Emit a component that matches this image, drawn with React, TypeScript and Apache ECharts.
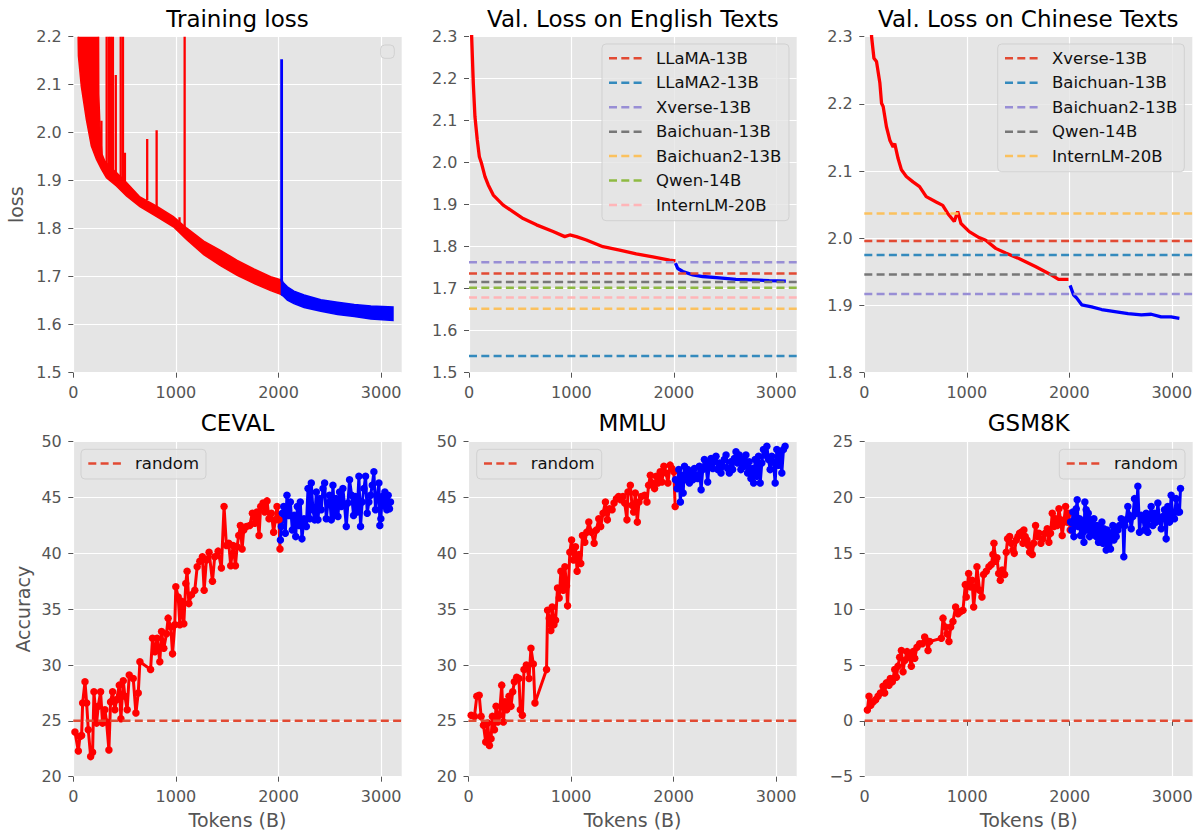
import React, { useEffect, useRef } from 'react';
import * as echarts from 'echarts';

const FONT = 'DejaVu Sans';
const X_MAX = 3200;
const X_TICKS = [0, 1000, 2000, 3000];

const TITLES = ['Training loss', 'Val. Loss on English Texts', 'Val. Loss on Chinese Texts', 'CEVAL', 'MMLU', 'GSM8K'];

// ---------- Training loss (noisy band read as envelopes) ----------
const trainRedUpper = [
  [44, 2.6], [240, 2.6], [248, 2.08], [262, 2.0], [280, 1.955], [307, 1.941], [360, 1.928], [420, 1.917],
  [518, 1.896], [649, 1.866], [812, 1.847], [975, 1.825], [1106, 1.801], [1271, 1.774], [1434, 1.755],
  [1597, 1.734], [1760, 1.716], [1923, 1.7], [2030, 1.693],
];
const trainRedLower = [
  [44, 2.25], [50, 2.16], [78, 2.097], [127, 2.028], [176, 1.972], [225, 1.945], [274, 1.924], [323, 1.906],
  [420, 1.889], [518, 1.868], [649, 1.846], [812, 1.825], [975, 1.804], [1106, 1.777], [1271, 1.746],
  [1434, 1.723], [1597, 1.703], [1760, 1.686], [1923, 1.671], [2037, 1.662],
];
// [x, base, peak]
const trainRedSpikes = [
  [274, 1.93, 2.025], [325, 1.91, 2.3], [347, 1.905, 2.3], [366, 1.9, 2.3], [386, 1.9, 2.3], [414, 1.895, 2.12],
  [462, 1.89, 2.3], [484, 1.89, 2.3], [503, 1.885, 1.958], [720, 1.86, 1.987], [812, 1.846, 2.005],
  [1035, 1.81, 1.824], [1085, 1.8, 2.3],
];
const trainBlueUpper = [
  [2028, 1.696], [2045, 1.688], [2086, 1.679], [2150, 1.67], [2249, 1.662], [2412, 1.652], [2575, 1.647],
  [2738, 1.642], [2900, 1.639], [3115, 1.637],
];
const trainBlueLower = [
  [2028, 1.662], [2050, 1.659], [2086, 1.651], [2150, 1.644], [2249, 1.636], [2412, 1.628], [2575, 1.621],
  [2738, 1.617], [2900, 1.612], [3115, 1.609],
];
const trainBlueSpikes = [[2030, 1.69, 2.153]];

// ---------- Validation loss ----------
const enValRed = [
  [18, 2.45], [26, 2.3], [42, 2.189], [58, 2.11], [81, 2.054], [101, 2.014], [123, 1.998], [156, 1.967],
  [188, 1.947], [237, 1.923], [334, 1.899], [432, 1.883], [529, 1.867], [659, 1.852], [821, 1.836],
  [935, 1.824], [984, 1.828], [1049, 1.824], [1146, 1.816], [1308, 1.8], [1471, 1.792], [1633, 1.783],
  [1795, 1.776], [1958, 1.768], [2016, 1.766],
];
const enValBlue = [
  [2016, 1.761], [2039, 1.748], [2088, 1.741], [2185, 1.733], [2282, 1.729], [2445, 1.726], [2607, 1.722],
  [2769, 1.721], [2932, 1.719], [3094, 1.718],
];
const enRefNames = ['LLaMA-13B', 'LLaMA2-13B', 'Xverse-13B', 'Baichuan-13B', 'Baichuan2-13B', 'Qwen-14B', 'InternLM-20B'];
const enRefValues = [1.736, 1.54, 1.763, 1.716, 1.652, 1.702, 1.679];
const enRefColors = ['#E24A33', '#348ABD', '#988ED5', '#777777', '#FBC15E', '#8EBA42', '#FFB5B8'];

const zhValRed = [
  [60, 2.36], [71, 2.3], [94, 2.268], [119, 2.263], [152, 2.231], [168, 2.201], [184, 2.196], [216, 2.166],
  [249, 2.146], [281, 2.136], [297, 2.141], [329, 2.119], [362, 2.102], [410, 2.092], [475, 2.084],
  [539, 2.077], [604, 2.062], [701, 2.054], [765, 2.049], [814, 2.037], [878, 2.025], [911, 2.04],
  [943, 2.022], [1024, 2.01], [1120, 2.001], [1185, 1.997], [1282, 1.985], [1379, 1.978], [1508, 1.97],
  [1669, 1.958], [1831, 1.945], [1895, 1.939], [1992, 1.939],
];
const zhValBlue = [
  [2008, 1.93], [2041, 1.916], [2073, 1.911], [2121, 1.901], [2218, 1.898], [2315, 1.894], [2444, 1.891],
  [2573, 1.888], [2703, 1.886], [2799, 1.887], [2896, 1.883], [2993, 1.883], [3074, 1.881],
];
const zhRefNames = ['Xverse-13B', 'Baichuan-13B', 'Baichuan2-13B', 'Qwen-14B', 'InternLM-20B'];
const zhRefValues = [1.996, 1.975, 1.917, 1.946, 2.037];
const zhRefColors = ['#E24A33', '#348ABD', '#988ED5', '#777777', '#FBC15E'];

// ---------- Benchmarks ----------
const cevalRed = [
  [16, 24.0], [49, 22.3], [65, 23.6], [81, 23.7], [91, 26.6], [114, 28.5], [130, 26.6], [146, 24.2], [169, 21.8],
  [188, 22.2], [201, 27.6], [227, 24.8], [243, 26.3], [266, 27.6], [285, 24.8], [308, 26.0], [324, 24.9],
  [347, 22.4], [363, 26.7], [383, 27.6], [405, 26.0], [422, 26.9], [448, 28.2], [464, 25.2], [487, 28.6],
  [503, 27.2], [525, 26.0], [545, 29.1], [584, 28.8], [610, 25.7], [633, 27.5], [649, 30.3], [753, 29.6],
  [772, 32.4], [795, 31.2], [817, 32.4], [843, 30.3], [860, 33.0], [882, 31.5], [908, 32.8], [924, 34.2],
  [950, 33.4], [967, 31.0], [989, 33.6], [999, 37.0], [1022, 36.1], [1038, 33.6], [1057, 35.7], [1077, 33.7],
  [1096, 37.3], [1109, 38.4], [1126, 35.5], [1152, 36.3], [1184, 36.7], [1207, 38.8], [1233, 39.3],
  [1258, 39.7], [1275, 36.7], [1297, 39.4], [1323, 40.1], [1356, 37.5], [1378, 39.7], [1411, 40.2],
  [1443, 38.7], [1469, 44.2], [1492, 40.7], [1515, 40.9], [1534, 38.9], [1557, 40.7], [1580, 38.9],
  [1596, 40.6], [1612, 41.6], [1628, 42.5], [1645, 40.4], [1661, 42.1], [1687, 42.4], [1719, 42.5],
  [1745, 43.6], [1768, 42.7], [1790, 43.7], [1810, 41.6], [1826, 44.2], [1849, 44.5], [1865, 43.7],
  [1888, 44.7], [1907, 43.1], [1930, 43.6], [1952, 41.9], [1969, 43.0], [1985, 44.2], [2004, 43.0], [2014, 40.4],
];
const cevalBlue = [
  [2018, 41.2], [2027, 42.4], [2037, 43.6], [2050, 44.2], [2066, 41.8], [2082, 45.2], [2099, 43.4], [2115, 44.6],
  [2134, 42.1], [2151, 43.4], [2167, 41.5], [2183, 44.2], [2199, 42.5], [2212, 44.6], [2228, 41.3], [2248, 43.1],
  [2271, 42.4], [2287, 45.8], [2303, 43.1], [2319, 46.3], [2335, 43.9], [2352, 43.0], [2368, 45.5], [2384, 43.0],
  [2400, 44.9], [2416, 43.9], [2433, 45.8], [2449, 46.3], [2465, 43.1], [2481, 44.5], [2497, 45.2], [2514, 43.0],
  [2530, 46.1], [2546, 43.4], [2562, 44.9], [2579, 43.3], [2595, 45.5], [2611, 44.2], [2627, 45.8], [2643, 44.3],
  [2660, 42.4], [2676, 44.5], [2692, 46.6], [2712, 45.2], [2731, 43.4], [2747, 45.1], [2767, 43.7], [2783, 46.9],
  [2799, 42.4], [2815, 44.6], [2832, 45.8], [2848, 46.9], [2864, 43.6], [2880, 44.6], [2897, 45.2], [2913, 46.1],
  [2929, 47.3], [2945, 43.9], [2961, 45.1], [2978, 46.3], [2987, 42.5], [2997, 43.1], [3010, 45.1], [3023, 44.3],
  [3036, 45.5], [3055, 43.9], [3068, 45.2], [3081, 44.0], [3091, 44.6],
];
const mmluRed = [
  [26, 25.5], [58, 25.4], [81, 27.2], [104, 27.3], [123, 25.4], [146, 24.6], [168, 23.1], [188, 24.8], [204, 22.8],
  [220, 23.4], [233, 25.4], [253, 24.2], [269, 26.3], [285, 24.9], [301, 25.5], [324, 28.2], [340, 24.9],
  [356, 26.7], [372, 26.0], [395, 27.2], [414, 26.3], [431, 27.6], [447, 28.5], [470, 28.9], [492, 28.8],
  [505, 26.0], [525, 25.5], [541, 29.6], [564, 30.0], [590, 28.8], [609, 31.5], [632, 30.1], [648, 26.6],
  [761, 29.6], [771, 34.9], [787, 34.2], [803, 33.1], [816, 35.2], [833, 33.6], [849, 34.0], [868, 36.9],
  [884, 36.0], [901, 38.4], [923, 36.7], [940, 38.8], [956, 37.1], [966, 35.3], [988, 40.1], [1005, 41.2],
  [1024, 39.4], [1043, 40.6], [1059, 38.4], [1079, 39.9], [1095, 39.1], [1111, 41.6], [1134, 41.0],
  [1153, 41.9], [1173, 42.8], [1199, 41.9], [1225, 40.9], [1247, 42.1], [1270, 43.1], [1289, 42.4],
  [1312, 43.6], [1335, 44.6], [1354, 43.0], [1377, 44.0], [1400, 43.9], [1419, 44.5], [1442, 44.9],
  [1464, 45.1], [1484, 44.8], [1506, 45.1], [1523, 44.5], [1545, 43.0], [1555, 45.5], [1578, 46.1],
  [1594, 44.3], [1610, 43.7], [1626, 45.4], [1646, 42.8], [1662, 44.6], [1685, 45.1], [1717, 45.2],
  [1740, 44.6], [1756, 46.1], [1773, 47.0], [1792, 46.3], [1814, 45.8], [1831, 46.9], [1847, 46.3],
  [1869, 47.3], [1886, 46.4], [1905, 47.8], [1927, 47.2], [1944, 46.3], [1966, 47.9], [1983, 47.6],
  [2002, 47.3], [2015, 44.2],
];
const mmluBlue = [
  [2018, 46.6], [2034, 45.8], [2050, 47.5], [2066, 44.6], [2080, 47.0], [2093, 45.4], [2106, 47.8], [2122, 46.6],
  [2138, 47.5], [2154, 46.3], [2170, 47.2], [2187, 46.6], [2203, 47.6], [2219, 47.0], [2235, 46.7], [2251, 47.8],
  [2268, 45.7], [2284, 47.5], [2300, 48.4], [2316, 47.8], [2332, 46.4], [2349, 48.1], [2365, 48.5], [2381, 47.6],
  [2397, 48.2], [2413, 48.7], [2430, 47.5], [2446, 48.1], [2462, 47.2], [2478, 47.8], [2494, 48.4], [2511, 48.8],
  [2527, 47.6], [2543, 47.2], [2559, 48.2], [2575, 47.5], [2592, 48.5], [2608, 49.1], [2624, 48.1], [2640, 48.8],
  [2656, 47.5], [2673, 48.4], [2689, 47.8], [2705, 48.8], [2721, 47.2], [2737, 48.2], [2754, 46.7], [2770, 47.6],
  [2780, 46.3], [2795, 48.4], [2811, 46.9], [2828, 48.7], [2844, 46.3], [2860, 48.1], [2876, 49.3], [2892, 48.8],
  [2909, 49.6], [2925, 48.4], [2941, 47.5], [2957, 48.7], [2973, 48.2], [2990, 46.3], [3006, 49.3], [3022, 47.9],
  [3038, 49.1], [3055, 47.2], [3071, 49.3], [3087, 49.6],
];
const gsmRed = [
  [26, 0.97], [42, 2.2], [59, 1.4], [81, 1.7], [107, 1.9], [130, 2.2], [153, 2.5], [179, 3.1], [195, 2.5],
  [211, 3.4], [237, 3.2], [250, 3.8], [270, 3.5], [293, 4.6], [309, 3.9], [325, 4.9], [341, 5.7], [358, 6.3],
  [374, 4.4], [390, 5.4], [413, 6.2], [432, 5.7], [455, 4.9], [471, 6.2], [488, 5.6], [510, 6.6], [536, 6.9],
  [562, 6.9], [585, 7.5], [601, 7.2], [618, 6.3], [634, 7.1], [748, 7.4], [764, 9.2], [787, 8.4], [803, 7.8],
  [822, 7.1], [839, 8.4], [861, 8.9], [887, 10.2], [910, 9.6], [936, 9.8], [959, 9.9], [981, 12.2], [991, 11.1],
  [1014, 13.2], [1030, 12.0], [1047, 12.6], [1063, 10.2], [1082, 12.0], [1095, 13.8], [1121, 11.7],
  [1144, 11.1], [1160, 13.1], [1186, 13.4], [1212, 13.8], [1235, 14.0], [1251, 14.9], [1261, 15.9],
  [1277, 14.3], [1290, 14.6], [1307, 13.2], [1323, 12.6], [1342, 13.5], [1365, 13.1], [1381, 15.1],
  [1394, 16.3], [1414, 16.5], [1430, 15.9], [1446, 15.3], [1459, 15.0], [1479, 16.2], [1495, 16.5],
  [1511, 16.8], [1528, 16.9], [1544, 15.9], [1553, 17.1], [1566, 16.5], [1583, 16.2], [1599, 15.7],
  [1609, 15.1], [1625, 15.7], [1635, 14.9], [1648, 15.9], [1667, 17.5], [1684, 16.5], [1700, 16.8],
  [1719, 15.9], [1739, 16.3], [1761, 16.8], [1781, 17.2], [1797, 16.0], [1813, 16.8], [1830, 18.6],
  [1846, 17.4], [1862, 18.1], [1878, 17.5], [1895, 19.0], [1911, 18.0], [1927, 16.6], [1943, 17.8],
  [1960, 19.2], [1976, 17.8], [1992, 18.6], [2005, 17.1],
];
const gsmBlue = [
  [2008, 17.8], [2021, 17.1], [2031, 18.7], [2041, 16.5], [2054, 17.7], [2064, 19.0], [2073, 19.8], [2083, 17.4],
  [2096, 18.1], [2106, 16.6], [2119, 17.8], [2129, 16.9], [2139, 16.0], [2148, 19.6], [2161, 18.9], [2171, 17.1],
  [2181, 18.6], [2194, 16.5], [2203, 18.0], [2213, 17.2], [2226, 16.8], [2236, 18.1], [2249, 17.1], [2259, 16.5],
  [2268, 17.5], [2281, 16.0], [2291, 17.1], [2301, 16.5], [2314, 17.8], [2324, 15.9], [2333, 17.2], [2346, 16.2],
  [2356, 15.3], [2366, 17.1], [2379, 15.9], [2389, 16.5], [2398, 15.4], [2411, 16.8], [2421, 17.5], [2431, 16.2],
  [2444, 17.1], [2454, 16.5], [2470, 17.1], [2486, 17.5], [2502, 18.1], [2519, 17.8], [2528, 14.7], [2538, 17.5],
  [2551, 18.0], [2567, 19.2], [2584, 18.4], [2600, 17.2], [2616, 18.3], [2632, 19.9], [2649, 18.6], [2665, 21.0],
  [2681, 16.9], [2697, 18.4], [2714, 18.1], [2730, 17.1], [2746, 18.6], [2762, 16.9], [2779, 18.1], [2795, 19.2],
  [2811, 17.5], [2827, 18.6], [2844, 17.8], [2860, 19.5], [2876, 18.0], [2893, 17.2], [2909, 18.3], [2925, 18.9],
  [2941, 16.3], [2957, 19.2], [2974, 17.8], [2990, 20.2], [3006, 18.3], [3022, 18.1], [3038, 19.9], [3055, 18.7],
  [3071, 18.7], [3081, 20.8],
];
const randomName = 'random';
const randomValues = [25, 25, 0];
const randomColor = '#E24A33';

// y axis ranges
const yMins = [1.5, 1.5, 1.8, 20, 20, -5];
const yMaxs = [2.2, 2.3, 2.3, 50, 50, 25];
const yIntervals = [0.1, 0.1, 0.1, 5, 5, 5];
const yDecimals = [1, 1, 1, 0, 0, 0];

// ---------- layout ----------
const GRIDS = [
  { left: 73.3, top: 36.7, width: 328.4, height: 336 },
  { left: 469, top: 36.7, width: 327.7, height: 336 },
  { left: 864.3, top: 36.7, width: 328, height: 336 },
  { left: 73.3, top: 441.7, width: 328.4, height: 335 },
  { left: 468.5, top: 441.7, width: 328.2, height: 335 },
  { left: 864.7, top: 441.7, width: 328, height: 335 },
];

function fmtTick(v: number, dec: number): string {
  const s = Math.abs(v).toFixed(dec);
  return v < 0 ? '\u2212' + s : s;
}

function bandRenderer(upper: number[][], lower: number[][], color: string) {
  return (_params: any, api: any) => {
    const pts = upper.map((p) => api.coord(p)).concat(lower.slice().reverse().map((p) => api.coord(p)));
    return { type: 'polygon', shape: { points: pts }, style: { fill: color, stroke: color, lineWidth: 1.5 } };
  };
}

function spikeRenderer(color: string, width: number) {
  return (_params: any, api: any) => {
    const x = api.value(0);
    const a = api.coord([x, api.value(1)]);
    const b = api.coord([x, api.value(2)]);
    return { type: 'line', shape: { x1: a[0], y1: a[1], x2: b[0], y2: b[1] }, style: { stroke: color, lineWidth: width } };
  };
}

function lineSeries(data: number[][], color: string, gi: number, dots: boolean): any {
  return {
    type: 'line', xAxisIndex: gi, yAxisIndex: gi, data, silent: true, z: 2,
    symbol: dots ? 'circle' : 'none', symbolSize: 7.5, showAllSymbol: true,
    lineStyle: { color, width: dots ? 3 : 3.3 }, itemStyle: { color },
  };
}

function hline(value: number, color: string, gi: number): any {
  return {
    type: 'line', xAxisIndex: gi, yAxisIndex: gi, data: [[0, value], [X_MAX, value]], silent: true, z: 3,
    symbol: 'none', lineStyle: { color, width: 2.5, type: [8, 4.3] }, itemStyle: { color },
  };
}

function buildOption(): any {
  const gfx: any[] = [];
  const text = (t: string, x: number, y: number, size: number, color: string, align: string) => {
    gfx.push({
      type: 'text', x, y, z: 60,
      style: {
        text: t, fill: color, fontSize: size, fontFamily: FONT,
        align, verticalAlign: 'middle', textAlign: align, textVerticalAlign: 'middle',
      },
    });
  };
  TITLES.forEach((t, i) => {
    const g = GRIDS[i];
    text(t, g.left + g.width / 2, i < 3 ? 18.7 : 422.8, 23, '#000', 'center');
  });

  const legend = (box: number[], hx1: number, hx2: number, tx: number, y0: number, step: number, names: string[], colors: string[]) => {
    gfx.push({
      type: 'rect', z: 50, shape: { x: box[0], y: box[1], width: box[2], height: box[3], r: 4 },
      style: { fill: 'rgba(229,229,229,0.8)', stroke: 'rgba(204,204,204,0.8)', lineWidth: 1 },
    });
    names.forEach((n, i) => {
      const y = y0 + i * step;
      gfx.push({
        type: 'line', z: 55, shape: { x1: hx1, y1: y, x2: hx2, y2: y },
        style: { stroke: colors[i], lineWidth: 2.5, lineDash: [8, 4.3] },
      });
      text(n, tx, y, 16.5, '#111', 'left');
    });
  };
  // empty legend of the training-loss panel
  legend([380.7, 45, 13.6, 13.3], 0, 0, 0, 0, 0, [], []);
  legend([602, 44, 187, 176.7], 609, 642, 656, 58.3, 24.45, enRefNames, enRefColors);
  legend([997.7, 44, 186.6, 127.7], 1005, 1038, 1052, 58.3, 24.45, zhRefNames, zhRefColors);
  legend([81, 449.3, 125, 29.7], 88.3, 121.7, 135, 463.5, 0, [randomName], [randomColor]);
  legend([476.7, 449.3, 125, 29.7], 484, 517.3, 530.7, 463.5, 0, [randomName], [randomColor]);
  legend([1059.3, 449.3, 125.7, 29.7], 1066.7, 1100, 1114, 463.5, 0, [randomName], [randomColor]);

  const nameStyle = { color: '#555', fontSize: 19, fontFamily: FONT };

  const xAxis = GRIDS.map((_g, i) => ({
    type: 'value', gridIndex: i, min: 0, max: X_MAX, interval: 1000,
    axisLine: { show: false },
    axisTick: { show: true, length: 5, lineStyle: { color: '#555', width: 1 }, customValues: X_TICKS },
    axisLabel: {
      color: '#555', fontSize: 16, fontFamily: FONT, margin: 12, customValues: X_TICKS,
      formatter: (v: number) => (v % 1000 === 0 ? String(v) : ''),
    },
    splitLine: { show: true, lineStyle: { color: '#ffffff', width: 1.2 } },
    ...(i >= 3 ? { name: 'Tokens (B)', nameLocation: 'middle', nameGap: 34, nameTextStyle: nameStyle } : {}),
  }));

  const yAxis = GRIDS.map((_g, i) => ({
    type: 'value', gridIndex: i, min: yMins[i], max: yMaxs[i], interval: yIntervals[i],
    axisLine: { show: false },
    axisTick: { show: true, length: 5, lineStyle: { color: '#555', width: 1 } },
    axisLabel: {
      color: '#555', fontSize: 16, fontFamily: FONT, margin: 11.5,
      formatter: (v: number) => fmtTick(v, yDecimals[i]),
    },
    splitLine: { show: true, lineStyle: { color: '#ffffff', width: 1.2 } },
    ...(i === 0 ? { name: 'loss', nameLocation: 'middle', nameGap: 48, nameTextStyle: nameStyle } : {}),
    ...(i === 3 ? { name: 'Accuracy', nameLocation: 'middle', nameGap: 41, nameTextStyle: nameStyle } : {}),
  }));

  const series: any[] = [
    { type: 'custom', xAxisIndex: 0, yAxisIndex: 0, clip: true, silent: true, z: 2, data: [[1000, 1.8]], renderItem: bandRenderer(trainRedUpper, trainRedLower, '#FF0000') },
    { type: 'custom', xAxisIndex: 0, yAxisIndex: 0, clip: true, silent: true, z: 2, data: trainRedSpikes, encode: { x: 0, y: [1, 2] }, renderItem: spikeRenderer('#FF0000', 2.3) },
    { type: 'custom', xAxisIndex: 0, yAxisIndex: 0, clip: true, silent: true, z: 2, data: [[2500, 1.64]], renderItem: bandRenderer(trainBlueUpper, trainBlueLower, '#0000FF') },
    { type: 'custom', xAxisIndex: 0, yAxisIndex: 0, clip: true, silent: true, z: 2, data: trainBlueSpikes, encode: { x: 0, y: [1, 2] }, renderItem: spikeRenderer('#0000FF', 2.8) },

    lineSeries(enValRed, '#FF0000', 1, false),
    lineSeries(enValBlue, '#0000FF', 1, false),
    ...enRefValues.map((v, k) => hline(v, enRefColors[k], 1)),

    lineSeries(zhValRed, '#FF0000', 2, false),
    lineSeries(zhValBlue, '#0000FF', 2, false),
    ...zhRefValues.map((v, k) => hline(v, zhRefColors[k], 2)),

    lineSeries(cevalRed, '#FF0000', 3, true),
    lineSeries(cevalBlue, '#0000FF', 3, true),
    hline(randomValues[0], randomColor, 3),

    lineSeries(mmluRed, '#FF0000', 4, true),
    lineSeries(mmluBlue, '#0000FF', 4, true),
    hline(randomValues[1], randomColor, 4),

    lineSeries(gsmRed, '#FF0000', 5, true),
    lineSeries(gsmBlue, '#0000FF', 5, true),
    hline(randomValues[2], randomColor, 5),
  ];

  return {
    animation: false,
    backgroundColor: '#ffffff',
    textStyle: { fontFamily: FONT },
    grid: GRIDS.map((g) => ({ ...g, show: true, backgroundColor: '#E5E5E5', borderWidth: 0, containLabel: false, outerBoundsMode: 'none' })),
    xAxis,
    yAxis,
    series,
    graphic: { elements: gfx },
  };
}

export default function App() {
  const ref = useRef<HTMLDivElement>(null);
  useEffect(() => {
    if (!ref.current) return;
    const chart = echarts.init(ref.current, null, { renderer: 'svg' });
    chart.setOption(buildOption());
    return () => chart.dispose();
  }, []);
  return <div ref={ref} style={{ position: 'absolute', left: 0, top: 0, width: 1199, height: 832 }} />;
}
